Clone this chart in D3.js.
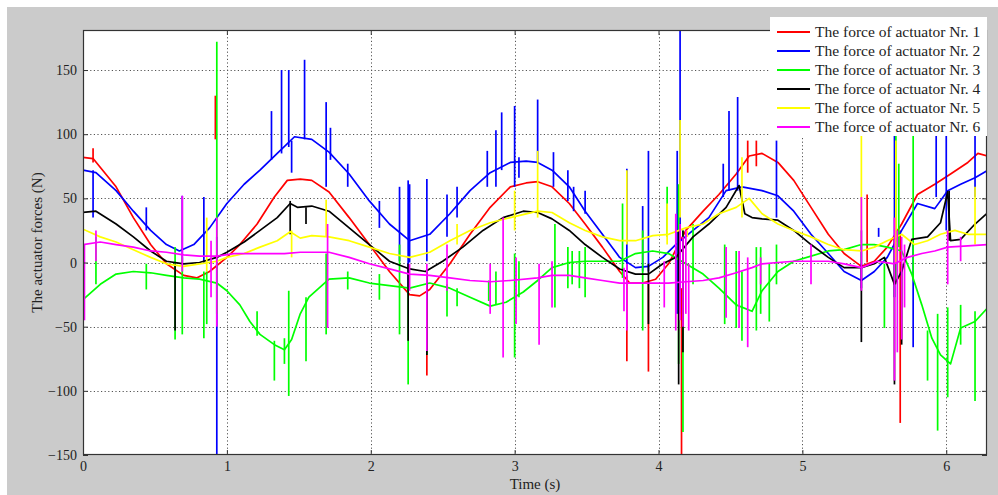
<!DOCTYPE html>
<html><head><meta charset="utf-8">
<script src="https://cdn.jsdelivr.net/npm/d3@7"></script>
<style>html,body{margin:0;padding:0;background:#fff;}svg{display:block;}</style>
</head><body>
<svg id="chart" width="998" height="495"></svg>
<script>
// ---- data ----
const seriesNames = ["The force of actuator Nr. 1","The force of actuator Nr. 2","The force of actuator Nr. 3",
  "The force of actuator Nr. 4","The force of actuator Nr. 5","The force of actuator Nr. 6"];
const xTicks = [0,1,2,3,4,5,6];
const yTicks = [-150,-100,-50,0,50,100,150];

// baseline [time, force]
const force1 = [[0,82],[0.07,81],[0.23,59],[0.35,35],[0.47,14],[0.58,-1],[0.70,-10],[0.79,-12],[0.88,-7],[1.0,4],[1.09,14],[1.21,30],[1.33,51],[1.42,64],[1.51,65],[1.59,64],[1.71,55],[1.85,35],[1.99,14],[2.13,-7],[2.27,-25],[2.34,-26],[2.41,-21],[2.55,-1],[2.69,22],[2.83,43],[2.97,59],[3.08,62],[3.16,63],[3.26,59],[3.38,46],[3.49,30],[3.61,12],[3.73,-7],[3.80,-16],[3.89,-16],[3.98,-13],[4.07,-1],[4.19,25],[4.31,40],[4.42,53],[4.54,69],[4.63,83],[4.72,85],[4.83,78],[4.94,64],[5.06,43],[5.18,22],[5.29,7],[5.41,-3],[5.50,1],[5.59,12],[5.69,30],[5.80,53],[5.92,61],[6.03,69],[6.15,78],[6.22,85],[6.29,83]];
const force2 = [[0,72],[0.09,70],[0.23,56],[0.35,40],[0.47,25],[0.58,14],[0.67,9],[0.77,14],[0.88,27],[1.0,46],[1.12,61],[1.23,72],[1.35,85],[1.47,98],[1.59,96],[1.71,86],[1.85,69],[1.99,48],[2.13,30],[2.27,17],[2.41,22],[2.55,38],[2.69,56],[2.83,70],[2.97,78],[3.08,79],[3.16,78],[3.26,72],[3.38,59],[3.49,40],[3.61,22],[3.73,4],[3.84,-4],[3.93,-3],[4.03,4],[4.12,14],[4.24,25],[4.35,35],[4.47,56],[4.58,59],[4.72,56],[4.83,52],[4.94,40],[5.06,22],[5.18,7],[5.29,-7],[5.41,-14],[5.50,-7],[5.59,4],[5.69,25],[5.80,46],[5.92,42],[6.01,56],[6.10,61],[6.20,66],[6.29,72]];
const force3 = [[0,-29],[0.12,-17],[0.23,-9],[0.35,-7],[0.47,-8],[0.58,-10],[0.70,-12],[0.81,-13],[0.93,-16],[1.0,-22],[1.09,-33],[1.16,-46],[1.23,-56],[1.33,-64],[1.40,-68],[1.45,-60],[1.51,-40],[1.57,-27],[1.64,-20],[1.71,-13],[1.85,-12],[1.99,-16],[2.13,-18],[2.27,-20],[2.41,-16],[2.55,-20],[2.69,-27],[2.83,-34],[2.94,-31],[3.06,-23],[3.16,-14],[3.26,-4],[3.38,0],[3.49,1],[3.61,1],[3.73,1],[3.84,7],[3.96,9],[4.07,7],[4.19,-1],[4.31,-9],[4.42,-20],[4.54,-33],[4.65,-38],[4.72,-22],[4.83,-7],[4.94,1],[5.06,5],[5.18,9],[5.29,10],[5.41,14],[5.50,14],[5.59,12],[5.69,9],[5.76,-9],[5.83,-33],[5.90,-59],[5.96,-72],[6.03,-79],[6.10,-51],[6.20,-46],[6.29,-35]];
const force4 = [[0,39],[0.09,40],[0.23,30],[0.35,20],[0.47,9],[0.58,1],[0.70,-1],[0.81,0],[0.93,4],[1.0,8],[1.12,16],[1.23,25],[1.35,35],[1.44,46],[1.49,43],[1.59,44],[1.71,40],[1.85,27],[1.99,14],[2.13,1],[2.27,-5],[2.38,-7],[2.50,1],[2.64,12],[2.78,25],[2.92,35],[3.06,40],[3.16,39],[3.26,34],[3.38,25],[3.49,14],[3.61,4],[3.73,-5],[3.84,-9],[3.93,-9],[4.03,-1],[4.12,4],[4.24,20],[4.35,30],[4.47,43],[4.56,60],[4.60,38],[4.65,35],[4.72,34],[4.83,33],[4.94,25],[5.06,14],[5.18,4],[5.29,-4],[5.41,-4],[5.50,-1],[5.57,4],[5.64,-17],[5.69,-7],[5.76,18],[5.87,20],[5.96,31],[6.01,55],[6.03,17],[6.10,18],[6.20,30],[6.29,39]];
const force5 = [[0,26],[0.12,20],[0.23,16],[0.35,10],[0.47,4],[0.58,-1],[0.70,-3],[0.81,-1],[0.93,1],[1.0,4],[1.12,7],[1.23,12],[1.35,17],[1.44,24],[1.51,19],[1.59,21],[1.71,20],[1.85,17],[1.99,12],[2.13,7],[2.27,4],[2.41,8],[2.55,17],[2.69,25],[2.83,31],[2.97,35],[3.16,40],[3.26,39],[3.38,31],[3.49,25],[3.61,20],[3.73,17],[3.84,17],[3.96,21],[4.07,22],[4.19,27],[4.31,30],[4.42,38],[4.54,43],[4.63,50],[4.72,38],[4.83,30],[4.94,25],[5.06,20],[5.18,14],[5.29,10],[5.41,9],[5.50,12],[5.59,17],[5.69,22],[5.78,14],[5.87,17],[5.96,22],[6.06,25],[6.15,22],[6.29,22]];
const force6 = [[0,14],[0.12,16],[0.23,14],[0.35,12],[0.47,9],[0.58,8],[0.70,6],[0.81,5],[0.93,5],[1.05,7],[1.16,7],[1.28,7],[1.40,7],[1.51,8],[1.59,8],[1.71,8],[1.85,4],[1.99,-1],[2.13,-5],[2.27,-9],[2.41,-10],[2.55,-12],[2.69,-14],[2.83,-15],[2.97,-14],[3.16,-12],[3.26,-10],[3.38,-10],[3.49,-12],[3.61,-14],[3.73,-16],[3.84,-16],[3.96,-16],[4.07,-16],[4.19,-15],[4.31,-14],[4.42,-12],[4.54,-8],[4.65,-4],[4.72,-1],[4.83,0],[4.94,1],[5.06,1],[5.18,1],[5.29,-1],[5.41,-4],[5.52,1],[5.64,-1],[5.73,4],[5.83,7],[5.92,9],[6.01,12],[6.15,13],[6.29,14]];

// transient spikes [time, from, to]
const spikes1 = [[0.07,78,89],[0.92,96,130],[2.39,-20,-88],[3.78,-10,-77],[3.93,-15,-85],[4.16,-20,-150],[4.62,70,95],[4.68,75,95],[5.45,0,53],[5.68,25,-125]];
const spikes2 = [[0.07,72,35],[0.44,43,25],[0.69,52,-1],[0.84,51,-1],[0.93,20,-150],[1.31,80,118],[1.38,85,150],[1.43,90,150],[1.45,95,70],[1.54,96,158],[1.69,125,59],[1.72,105,80],[1.84,77,59],[2.06,48,27],[2.20,59,1],[2.26,64,-25],[2.27,61,0],[2.39,65,1],[2.53,53,20],[2.60,59,35],[2.81,87,59],[2.87,103,59],[2.91,117,72],[3.0,122,59],[3.03,82,66],[3.16,127,78],[3.27,86,59],[3.37,72,48],[3.41,59,40],[3.49,56,38],[3.78,73,-7],[3.89,44,-7],[3.93,87,-7],[4.13,87,-40],[4.15,181,-40],[4.45,77,51],[4.49,118,56],[4.55,129,56],[4.82,95,35],[5.41,25,-20],[5.53,27,20],[5.64,110,-27],[5.77,14,-66],[5.93,110,51],[6.00,110,25],[6.20,110,51]];
const spikes3 = [[0.09,20,-17],[0.44,-1,-21],[0.64,12,-60],[0.69,4,-56],[0.84,-7,-59],[0.86,-7,-48],[0.93,-40,172],[1.21,-38,-57],[1.33,-61,-92],[1.40,-59,-79],[1.43,-22,-104],[1.55,-27,-77],[1.69,7,-56],[1.84,-7,-21],[2.06,-9,-29],[2.20,14,-56],[2.26,-20,-95],[2.39,-17,-72],[2.53,-17,-42],[2.60,-20,-34],[2.82,-14,-30],[2.87,-7,-33],[3.0,7,-74],[3.03,1,-27],[3.28,30,-35],[3.37,12,-20],[3.40,9,-17],[3.45,9,-20],[3.49,12,-27],[3.75,46,-12],[3.89,25,-53],[4.06,59,20],[4.14,61,-79],[4.17,25,-132],[4.24,30,-17],[4.46,14,-48],[4.54,9,-51],[4.58,-7,-61],[4.68,12,-53],[4.71,12,-40],[4.77,-1,-46],[4.82,14,-17],[5.41,14,-1],[5.57,-1,-51],[5.65,110,-17],[5.67,77,12],[5.77,110,-14],[5.87,-53,-92],[5.94,-40,-131],[6.01,-35,-105],[6.10,-33,-64],[6.20,-38,-108],[6.29,-20,-50]];
const spikes4 = [[0.64,-1,-53],[1.44,48,22],[1.55,43,30],[2.26,-1,-61],[2.39,-7,-72],[3.93,-1,-48],[4.14,25,-95],[4.17,25,-70],[5.41,-1,-62],[5.64,20,-95],[5.69,-1,-64],[6.02,56,17]];
const spikes5 = [[0.86,35,-7],[1.45,25,4],[1.69,49,20],[2.60,30,14],[3.0,56,25],[3.16,87,35],[3.78,72,14],[4.06,46,14],[4.15,111,35],[4.20,25,20],[4.58,82,35],[5.41,110,14],[5.65,95,-1],[6.20,59,14]];
const spikes6 = [[0.01,14,-45],[0.09,25,1],[0.69,52,-7],[0.89,17,-27],[0.93,35,-50],[1.70,30,-51],[2.27,-1,-22],[2.39,-1,-69],[2.53,14,-22],[2.83,-1,-40],[2.92,35,-74],[3.01,4,-48],[3.17,-1,-64],[3.26,1,-35],[3.76,-4,-38],[3.78,-1,-53],[4.04,1,-35],[4.12,38,-53],[4.15,30,-45],[4.17,20,-50],[4.19,25,-40],[4.21,-1,-53],[4.47,12,-43],[4.56,9,-51],[4.62,4,-66],[4.71,4,-17],[5.06,14,-17],[5.41,51,-22],[5.64,35,-92],[5.66,25,-70],[5.69,20,-60],[5.71,14,-35],[6.01,25,-17],[6.10,20,1],[6.29,20,-64]];

const baselines = [force1, force2, force3, force4, force5, force6];
const spikeSets = [spikes1, spikes2, spikes3, spikes4, spikes5, spikes6];
const colors = ["#ff0000","#0000ff","#00ff00","#000000","#ffff00","#ff00ff"];

// ---- layout ----
const svg = d3.select("#chart");
const L = 83, T = 30, R = 987, B = 455;
const serif = "'Liberation Serif','Times New Roman',serif";

svg.append("rect").attr("x",7).attr("y",7).attr("width",991).attr("height",488).attr("fill","#cbcbcb");
svg.append("rect").attr("x",L).attr("y",T).attr("width",R-L).attr("height",B-T).attr("fill","#fff");

const x = d3.scaleLinear().domain([0, 2*Math.PI]).range([L, R]);
const y = d3.scaleLinear().domain([-150, 181.2]).range([B, T]);

// grid
const grid = svg.append("g").attr("stroke","#555").attr("stroke-width",1).attr("stroke-dasharray","1.2,2.4");
grid.selectAll(".gx").data(xTicks.filter(d=>d>0)).enter().append("line")
  .attr("x1",d=>Math.round(x(d))+0.5).attr("x2",d=>Math.round(x(d))+0.5).attr("y1",T).attr("y2",B);
grid.selectAll(".gy").data(yTicks.filter(d=>d>-150)).enter().append("line")
  .attr("y1",d=>Math.round(y(d))+0.5).attr("y2",d=>Math.round(y(d))+0.5).attr("x1",L).attr("x2",R);

// clip
svg.append("clipPath").attr("id","clip").append("rect").attr("x",L).attr("y",T).attr("width",R-L).attr("height",B-T);
const plot = svg.append("g").attr("clip-path","url(#clip)");

const line = d3.line().x(d=>x(d[0])).y(d=>y(d[1]));
baselines.forEach((data,i)=>{
  const g = plot.append("g");
  g.append("path").datum(data).attr("d",line).attr("fill","none")
    .attr("stroke",colors[i]).attr("stroke-width",1.7).attr("stroke-linejoin","round");
  g.selectAll("line").data(spikeSets[i]).enter().append("line")
    .attr("x1",d=>x(d[0])).attr("x2",d=>x(d[0]))
    .attr("y1",d=>y(d[1])).attr("y2",d=>y(d[2]))
    .attr("stroke",colors[i]).attr("stroke-width",1.7);
});

// axes (ticks inward on all sides)
const axB = d3.axisBottom(x).tickValues(xTicks).tickSize(-5).tickPadding(6).tickFormat(d3.format("d"));
const axT = d3.axisTop(x).tickValues(xTicks).tickSize(-5).tickFormat("");
const axL = d3.axisLeft(y).tickValues(yTicks).tickSize(-5).tickPadding(6).tickFormat(d3.format("d"));
const axR = d3.axisRight(y).tickValues(yTicks).tickSize(-5).tickFormat("");
function styleAxis(g){
  g.select(".domain").remove();
  g.selectAll(".tick line").attr("stroke","#333").attr("stroke-width",1);
  g.selectAll(".tick text").attr("fill","#222").style("font-family",serif).style("font-size","14px");
}
svg.append("g").attr("transform",`translate(0,${B})`).call(axB).call(styleAxis);
svg.append("g").attr("transform",`translate(0,${T})`).call(axT).call(styleAxis);
svg.append("g").attr("transform",`translate(${L},0)`).call(axL).call(styleAxis);
svg.append("g").attr("transform",`translate(${R},0)`).call(axR).call(styleAxis);

svg.append("rect").attr("x",L+0.5).attr("y",T+0.5).attr("width",R-L-1).attr("height",B-T-1)
  .attr("fill","none").attr("stroke","#333").attr("stroke-width",1.2);

// axis titles
svg.append("text").attr("x",(L+R)/2).attr("y",489).attr("text-anchor","middle")
  .style("font-family",serif).style("font-size","15px").attr("fill","#222").text("Time (s)");
svg.append("text").attr("transform",`translate(42,${(T+B)/2}) rotate(-90)`).attr("text-anchor","middle")
  .style("font-family",serif).style("font-size","15px").attr("fill","#222").text("The actuator forces (N)");

// legend
const lg = svg.append("g");
lg.append("rect").attr("x",770).attr("y",17).attr("width",217).attr("height",119).attr("fill","#fff");
const rows = lg.selectAll(".row").data(seriesNames).enter().append("g")
  .attr("transform",(d,i)=>`translate(0,${32+i*19})`);
rows.append("line").attr("x1",777).attr("x2",810).attr("y1",0).attr("y2",0)
  .attr("stroke",(d,i)=>colors[i]).attr("stroke-width",1.8);
rows.append("text").attr("x",815).attr("y",5).style("font-family",serif).style("font-size","15.5px")
  .attr("fill","#222").text(d=>d);
</script>
</body></html>
